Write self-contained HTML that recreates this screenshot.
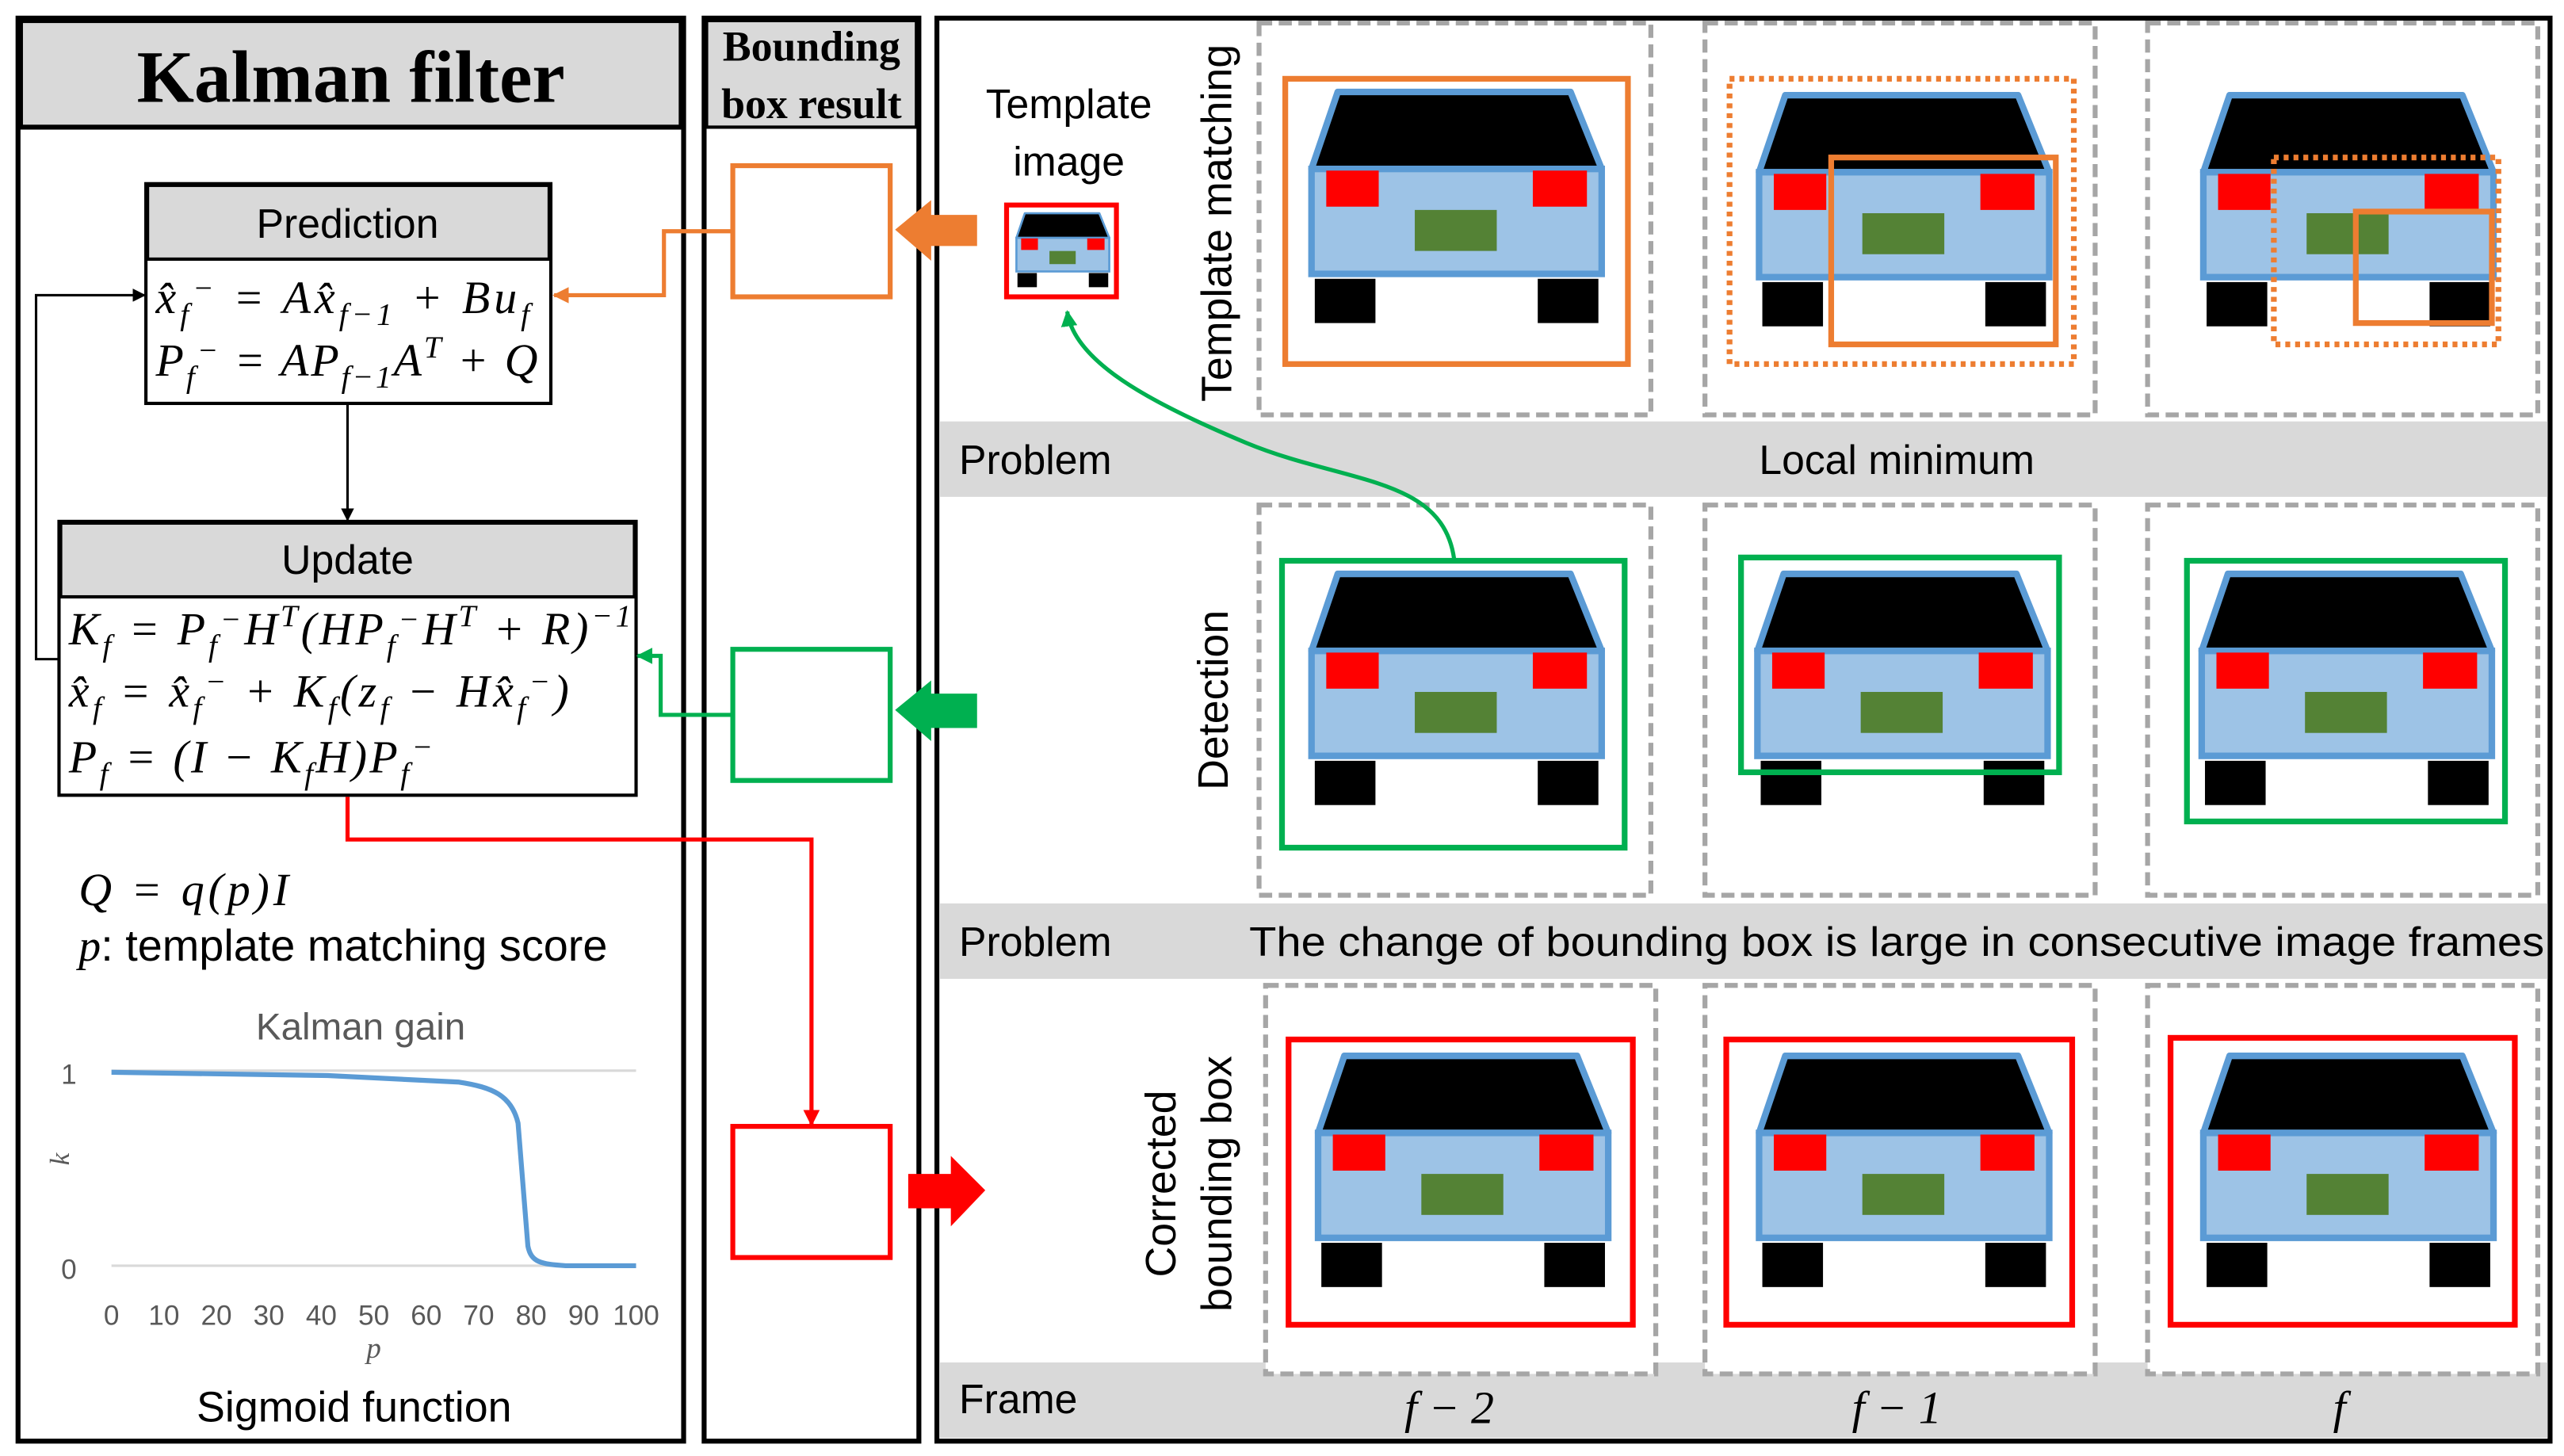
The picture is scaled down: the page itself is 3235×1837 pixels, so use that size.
<!DOCTYPE html>
<html><head><meta charset="utf-8"><style>
html,body{margin:0;padding:0;background:#fff;}
svg{display:block;}
.s{font-family:"Liberation Sans",sans-serif;}
.m{font-family:"Liberation Serif",serif;font-style:italic;}
</style></head><body>
<svg width="3235" height="1837" viewBox="0 0 1564 888" xmlns="http://www.w3.org/2000/svg">
<defs>
<g id="car">
<polygon points="16,0 158,0 177,47 0,47" fill="#000" stroke="#5b9bd5" stroke-width="4" stroke-linejoin="round"/>
<rect x="0" y="47" width="177" height="64" fill="#9dc3e6" stroke="#5b9bd5" stroke-width="4"/>
<rect x="9" y="48" width="32" height="22" fill="#f00"/>
<rect x="135" y="48" width="33" height="22" fill="#f00"/>
<rect x="63" y="72" width="50" height="25" fill="#548235"/>
<rect x="2" y="114" width="37" height="27" fill="#000"/>
<rect x="138" y="114" width="37" height="27" fill="#000"/>
</g>
<marker id="ab" markerWidth="8" markerHeight="8" refX="7" refY="4" orient="auto" markerUnits="userSpaceOnUse"><path d="M0,0 L8,4 L0,8 z" fill="#000"/></marker>
<marker id="ao" markerWidth="10" markerHeight="10" refX="9" refY="5" orient="auto" markerUnits="userSpaceOnUse"><path d="M0,0 L10,5 L0,10 z" fill="#ed7d31"/></marker>
<marker id="ag" markerWidth="10" markerHeight="10" refX="9" refY="5" orient="auto" markerUnits="userSpaceOnUse"><path d="M0,0 L10,5 L0,10 z" fill="#00b050"/></marker>
<marker id="ar" markerWidth="10" markerHeight="10" refX="9" refY="5" orient="auto" markerUnits="userSpaceOnUse"><path d="M0,0 L10,5 L0,10 z" fill="#f00"/></marker>
</defs>

<!-- Kalman panel -->
<rect x="11" y="11" width="406" height="868" fill="#fff" stroke="#000" stroke-width="3"/>
<rect x="12.5" y="12.5" width="403" height="65" fill="#d9d9d9" stroke="#000" stroke-width="3"/>
<text x="214" y="62" text-anchor="middle" font-family="Liberation Serif,serif" font-weight="bold" font-size="45">Kalman filter</text>

<!-- Bounding panel -->
<rect x="429.5" y="11" width="131" height="868" fill="#fff" stroke="#000" stroke-width="3"/>
<rect x="431" y="12.5" width="128" height="65" fill="#d9d9d9" stroke="#000" stroke-width="2"/>
<text x="495" y="37" text-anchor="middle" font-family="Liberation Serif,serif" font-weight="bold" font-size="26">Bounding</text>
<text x="495" y="72" text-anchor="middle" font-family="Liberation Serif,serif" font-weight="bold" font-size="26">box result</text>

<!-- Right panel -->
<rect x="571.5" y="11" width="984" height="868" fill="#fff" stroke="#000" stroke-width="3"/>
<rect x="573" y="257" width="981" height="46" fill="#d9d9d9"/>
<rect x="573" y="551" width="981" height="46" fill="#d9d9d9"/>
<rect x="573" y="831" width="981" height="46" fill="#d9d9d9"/>
<text class="s" x="585" y="289" font-size="25">Problem</text>
<text class="s" x="1157" y="289" font-size="25" text-anchor="middle">Local minimum</text>
<text class="s" x="585" y="583" font-size="25">Problem</text>
<text class="s" x="762" y="583" font-size="25" textLength="790" lengthAdjust="spacingAndGlyphs">The change of bounding box is large in consecutive image frames</text>
<text class="s" x="585" y="862" font-size="25">Frame</text>
<text class="m" x="884" y="868" font-size="28" text-anchor="middle">f − 2</text>
<text class="m" x="1157" y="868" font-size="28" text-anchor="middle">f − 1</text>
<text class="m" x="1427" y="868" font-size="28" text-anchor="middle">f</text>

<!-- dashed frames -->
<g fill="#fff" stroke="#a6a6a6" stroke-width="3" stroke-dasharray="8,4">
<rect x="768" y="14" width="239" height="239"/>
<rect x="1040" y="14" width="238" height="239"/>
<rect x="1310" y="14" width="238" height="239"/>
<rect x="768" y="308" width="239" height="238"/>
<rect x="1040" y="308" width="238" height="238"/>
<rect x="1310" y="308" width="238" height="238"/>
<rect x="772" y="601" width="238" height="237"/>
<rect x="1040" y="601" width="238" height="237"/>
<rect x="1310" y="601" width="238" height="237"/>
</g>

<!-- cars -->
<use href="#car" x="800" y="56"/>
<use href="#car" x="1073" y="58"/>
<use href="#car" x="1344" y="58"/>
<use href="#car" x="800" y="350"/>
<use href="#car" x="1072" y="350"/>
<use href="#car" x="1343" y="350"/>
<use href="#car" x="804" y="644"/>
<use href="#car" x="1073" y="644"/>
<use href="#car" x="1344" y="644"/>

<!-- orange boxes -->
<g fill="none" stroke="#ed7d31" stroke-width="3.5">
<rect x="784" y="48" width="209" height="174"/>
<rect x="1117" y="96" width="137" height="114"/>
<rect x="1437" y="129" width="83" height="68"/>
<g stroke-dasharray="3,3"><rect x="1055" y="48" width="210" height="174"/><rect x="1387" y="96" width="137" height="114"/></g>
</g>
<!-- green boxes -->
<g fill="none" stroke="#00b050" stroke-width="3.5">
<rect x="782" y="342" width="209" height="175"/>
<rect x="1062" y="340" width="194" height="131"/>
<rect x="1334" y="342" width="194" height="159"/>
</g>
<!-- red boxes -->
<g fill="none" stroke="#f00" stroke-width="3.5">
<rect x="786" y="634" width="210" height="174"/>
<rect x="1053" y="634" width="211" height="174"/>
<rect x="1324" y="633" width="210" height="175"/>
</g>

<!-- row labels -->
<text class="s" font-size="26" text-anchor="middle" transform="translate(751,136) rotate(-90)">Template matching</text>
<text class="s" font-size="26" text-anchor="middle" transform="translate(749,427) rotate(-90)">Detection</text>
<text class="s" font-size="26" text-anchor="middle" transform="translate(717,722) rotate(-90)">Corrected</text>
<text class="s" font-size="26" text-anchor="middle" transform="translate(751,722) rotate(-90)">bounding box</text>

<!-- template image -->
<text class="s" x="652" y="72" font-size="25" text-anchor="middle">Template</text>
<text class="s" x="652" y="107" font-size="25" text-anchor="middle">image</text>
<rect x="614" y="125" width="67" height="56" fill="#fff" stroke="#f00" stroke-width="3"/>
<use href="#car" transform="translate(620,130) scale(0.32)"/>
<path d="M887,341 C880,290 820,295 760,270 C700,245 655,220 651,190" fill="none" stroke="#00b050" stroke-width="2.5" marker-end="url(#ag)"/>

<!-- big arrows -->
<polygon points="546,140 568,122 568,131 596,131 596,150 568,150 568,159" fill="#ed7d31"/>
<polygon points="546,433 568,415 568,423 596,423 596,444 568,444 568,452" fill="#00b050"/>
<polygon points="601,726 580,705 580,716 554,716 554,737 580,737 580,748" fill="#f00"/>

<!-- result boxes -->
<rect x="447" y="101" width="96" height="80" fill="#fff" stroke="#ed7d31" stroke-width="3"/>
<rect x="447" y="396" width="96" height="80" fill="#fff" stroke="#00b050" stroke-width="3"/>
<rect x="447" y="687" width="96" height="80" fill="#fff" stroke="#f00" stroke-width="3"/>

<!-- Prediction -->
<rect x="89" y="112" width="247" height="134" fill="#fff" stroke="#000" stroke-width="2"/>
<rect x="90" y="113" width="245" height="45" fill="#d9d9d9" stroke="#000" stroke-width="2"/>
<text class="s" x="212" y="145" font-size="25" text-anchor="middle">Prediction</text>
<text class="m" x="95" y="191" font-size="28" textLength="228" lengthAdjust="spacing">x̂<tspan font-size="19" dy="7">f</tspan><tspan font-size="19" dy="-16">−</tspan><tspan dy="9"> = Ax̂</tspan><tspan font-size="19" dy="7">f−1</tspan><tspan dy="-7"> + Bu</tspan><tspan font-size="19" dy="7">f</tspan></text>
<text class="m" x="95" y="229" font-size="28" textLength="233" lengthAdjust="spacing">P<tspan font-size="19" dy="7">f</tspan><tspan font-size="19" dy="-16">−</tspan><tspan dy="9"> = AP</tspan><tspan font-size="19" dy="7">f−1</tspan><tspan dy="-7">A</tspan><tspan font-size="19" dy="-11">T</tspan><tspan dy="11"> + Q</tspan></text>

<!-- Update -->
<rect x="36" y="318" width="352" height="167" fill="#fff" stroke="#000" stroke-width="2"/>
<rect x="37" y="319" width="350" height="45" fill="#d9d9d9" stroke="#000" stroke-width="2"/>
<text class="s" x="212" y="350" font-size="25" text-anchor="middle">Update</text>
<text class="m" x="42" y="393" font-size="28" textLength="343" lengthAdjust="spacing">K<tspan font-size="19" dy="7">f</tspan><tspan dy="-7"> = P</tspan><tspan font-size="19" dy="7">f</tspan><tspan font-size="19" dy="-16">−</tspan><tspan dy="9">H</tspan><tspan font-size="19" dy="-11">T</tspan><tspan dy="11">(HP</tspan><tspan font-size="19" dy="7">f</tspan><tspan font-size="19" dy="-16">−</tspan><tspan dy="9">H</tspan><tspan font-size="19" dy="-11">T</tspan><tspan dy="11"> + R)</tspan><tspan font-size="19" dy="-11">−1</tspan></text>
<text class="m" x="42" y="431" font-size="28" textLength="305" lengthAdjust="spacing">x̂<tspan font-size="19" dy="7">f</tspan><tspan dy="-7"> = x̂</tspan><tspan font-size="19" dy="7">f</tspan><tspan font-size="19" dy="-16">−</tspan><tspan dy="9"> + K</tspan><tspan font-size="19" dy="7">f</tspan><tspan dy="-7">(z</tspan><tspan font-size="19" dy="7">f</tspan><tspan dy="-7"> − Hx̂</tspan><tspan font-size="19" dy="7">f</tspan><tspan font-size="19" dy="-16">−</tspan><tspan dy="9">)</tspan></text>
<text class="m" x="42" y="471" font-size="28" textLength="222" lengthAdjust="spacing">P<tspan font-size="19" dy="7">f</tspan><tspan dy="-7"> = (I − K</tspan><tspan font-size="19" dy="7">f</tspan><tspan dy="-7">H)P</tspan><tspan font-size="19" dy="7">f</tspan><tspan font-size="19" dy="-16">−</tspan></text>

<!-- connectors -->
<line x1="212" y1="246" x2="212" y2="317" stroke="#000" stroke-width="1.5" marker-end="url(#ab)"/>
<polyline points="36,402 22,402 22,180 88,180" fill="none" stroke="#000" stroke-width="1.5" marker-end="url(#ab)"/>
<polyline points="446,141 405,141 405,180 338,180" fill="none" stroke="#ed7d31" stroke-width="2.5" marker-end="url(#ao)"/>
<polyline points="446,436 403,436 403,400 389,400" fill="none" stroke="#00b050" stroke-width="2.5" marker-end="url(#ag)"/>
<polyline points="212,486 212,512 495,512 495,686" fill="none" stroke="#f00" stroke-width="2.5" marker-end="url(#ar)"/>

<!-- Q text -->
<text class="m" x="48" y="552" font-size="28" textLength="128" lengthAdjust="spacing">Q = q(p)I</text>
<text x="48" y="586" font-size="27"><tspan class="m">p</tspan><tspan class="s">: template matching score</tspan></text>

<!-- chart -->
<text class="s" x="220" y="634" font-size="23" fill="#595959" text-anchor="middle">Kalman gain</text>
<line x1="68" y1="653" x2="388" y2="653" stroke="#d9d9d9" stroke-width="1.5"/>
<line x1="68" y1="772" x2="388" y2="772" stroke="#d9d9d9" stroke-width="1.5"/>
<text class="s" x="42" y="661" font-size="17" fill="#595959" text-anchor="middle">1</text>
<text class="s" x="42" y="780" font-size="17" fill="#595959" text-anchor="middle">0</text>
<text class="m" font-size="17" fill="#595959" text-anchor="middle" transform="translate(42,707) rotate(-90)">k</text>
<path d="M68,654 L200,656 L280,660 C300,663 312,668 316,685 L322,760 C324,770 330,771 345,772 L388,772" fill="none" stroke="#5b9bd5" stroke-width="3"/>
<g class="s" font-size="17" fill="#595959" text-anchor="middle">
<text x="68" y="808">0</text><text x="100" y="808">10</text><text x="132" y="808">20</text><text x="164" y="808">30</text><text x="196" y="808">40</text><text x="228" y="808">50</text><text x="260" y="808">60</text><text x="292" y="808">70</text><text x="324" y="808">80</text><text x="356" y="808">90</text><text x="388" y="808">100</text>
</g>
<text class="m" x="228" y="828" font-size="18" fill="#595959" text-anchor="middle">p</text>
<text class="s" x="216" y="867" font-size="26" text-anchor="middle">Sigmoid function</text>
</svg>
</body></html>
